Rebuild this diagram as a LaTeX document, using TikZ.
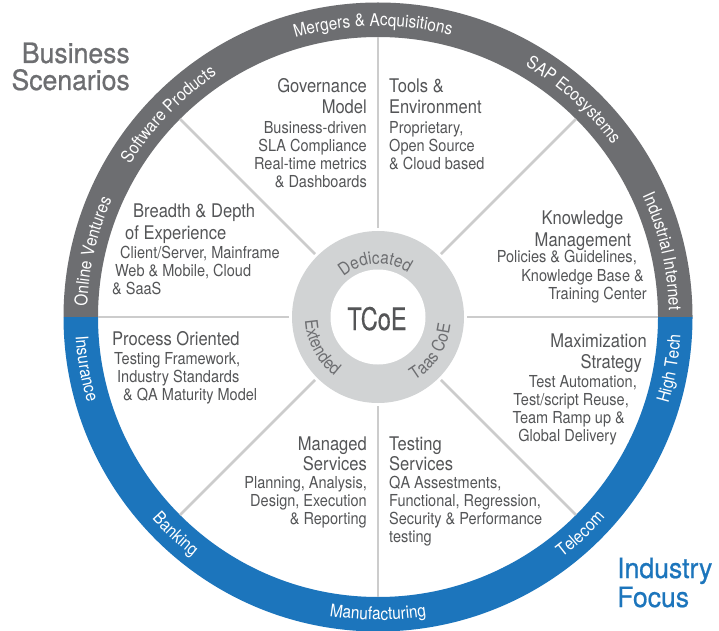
\documentclass[tikz,border=0pt]{standalone}
\usepackage{fontspec}
\setmainfont{TeX Gyre Heros}[FakeStretch=0.88]
\newfontfamily\headfont{TeX Gyre Heros}[FakeStretch=0.95, FakeBold=0.7]
\newfontfamily\tcoefont{TeX Gyre Heros}[FakeStretch=0.76, FakeBold=0.5]
\usetikzlibrary{decorations.text}
\definecolor{ringgray}{HTML}{6D6E71}
\definecolor{ringblue}{HTML}{1C75BC}
\definecolor{innergray}{HTML}{D1D3D4}
\definecolor{spokegray}{HTML}{CCCCCC}
\definecolor{txtdark}{HTML}{545557}
\tikzset{
  ttl/.style={inner sep=0pt, text=txtdark, font=\fontsize{18.8}{21}\selectfont},
  sub/.style={inner sep=0pt, text=txtdark, font=\fontsize{16.5}{18}\selectfont},
  headgray/.style={inner sep=0pt, text=ringgray, font=\headfont\fontsize{28}{28}\selectfont},
  headblue/.style={inner sep=0pt, text=ringblue, font=\headfont\fontsize{28}{28}\selectfont},
  spokeline/.style={draw=spokegray, line width=2.5pt},
  ringlabel/.style={decorate, decoration={text along path, text align=center, text color=white, text={|\fontsize{17.5}{18}\selectfont|#1}}},
  corelabel/.style={decorate, decoration={text along path, text align=center, text color=ringgray, text={|\fontsize{17.5}{18}\selectfont|#1}}}
}
\begin{document}
\begin{tikzpicture}[x=1pt,y=1pt]
\useasboundingbox (0,0) rectangle (719,630);
\fill[white] (0,0) rectangle (719,630);
\coordinate (c) at (378,313);
% outer ring
\fill[ringgray] ([shift={(0:314.5pt)}]c) arc[start angle=0, end angle=180, radius=314.5pt]
  -- ([shift={(180:280pt)}]c) arc[start angle=180, end angle=0, radius=280pt] -- cycle;
\fill[ringblue] ([shift={(180:314.5pt)}]c) arc[start angle=180, end angle=360, radius=314.5pt]
  -- ([shift={(0:280pt)}]c) arc[start angle=360, end angle=180, radius=280pt] -- cycle;
% spokes
\foreach \a in {0,45,...,315}
  \draw[spokeline] ([shift={(\a:89pt)}]c) -- ([shift={(\a:280pt)}]c);
% core
\fill[innergray] (c) circle[radius=86pt];
\fill[white] (c) circle[radius=47.5pt];
% ring labels (top half, clockwise)
\path[ringlabel={Mergers {\&} Acquisitions}] ([shift={(131:291pt)}]c) arc[start angle=131, end angle=51, radius=291pt];
\path[ringlabel={SAP Ecosystems}] ([shift={(88:291pt)}]c) arc[start angle=88, end angle=8, radius=291pt];
\path[ringlabel={Industrial Internet}] ([shift={(53:291pt)}]c) arc[start angle=53, end angle=-27, radius=291pt];
\path[ringlabel={Software Products}] ([shift={(176:291pt)}]c) arc[start angle=176, end angle=96, radius=291pt];
\path[ringlabel={Online Ventures}] ([shift={(207:291pt)}]c) arc[start angle=207, end angle=127, radius=291pt];
% ring labels (bottom half, counter-clockwise)
\path[ringlabel={Insurance}] ([shift={(150:303pt)}]c) arc[start angle=150, end angle=230, radius=303pt];
\path[ringlabel={Banking}] ([shift={(187:303pt)}]c) arc[start angle=187, end angle=267, radius=303pt];
\path[ringlabel={Manufacturing}] ([shift={(230:303pt)}]c) arc[start angle=230, end angle=310, radius=303pt];
\path[ringlabel={Telecom}] ([shift={(273:303pt)}]c) arc[start angle=273, end angle=353, radius=303pt];
\path[ringlabel={High Tech}] ([shift={(310:303pt)}]c) arc[start angle=310, end angle=390, radius=303pt];
% core labels
\path[corelabel={Dedicated}] ([shift={(153:53pt)}]c) arc[start angle=153, end angle=33, radius=53pt];
\path[corelabel={Extended}] ([shift={(148:73pt)}]c) arc[start angle=148, end angle=268, radius=73pt];
\path[corelabel={Taas CoE}] ([shift={(267:73pt)}]c) arc[start angle=267, end angle=387, radius=73pt];
\begin{scope}[yshift=630pt, y=-1pt]
\node[inner sep=0pt, text=txtdark, font=\tcoefont\fontsize{31}{31}\selectfont, anchor=base] (tcoe) at (377,330) {TCoE};
% headings
\node[headgray, anchor=base east] (bs1) at (130,63) {Business};
\node[headgray, anchor=base east] (bs2) at (130,90) {Scenarios};
\node[headblue, anchor=base west] (if1) at (617,578) {Industry};
\node[headblue, anchor=base west] (if2) at (617,607) {Focus};
% Governance
\node[ttl, anchor=base east] (gv1) at (367,93) {Governance};
\node[ttl, anchor=base east] (gv2) at (367,114) {Model};
\node[sub, anchor=base east] (gv3) at (367,134) {Business-driven};
\node[sub, anchor=base east] (gv4) at (367,152) {SLA Compliance};
\node[sub, anchor=base east] (gv5) at (367,170) {Real-time metrics};
\node[sub, anchor=base east] (gv6) at (367,188) {\& Dashboards};
% Tools
\node[ttl, anchor=base west] (tl1) at (389,93) {Tools \&};
\node[ttl, anchor=base west] (tl2) at (389,114) {Environment};
\node[sub, anchor=base west] (tl3) at (389,134) {Proprietary,};
\node[sub, anchor=base west] (tl4) at (389,152) {Open Source};
\node[sub, anchor=base west] (tl5) at (389,170) {\& Cloud based};
% Breadth
\node[ttl, anchor=base west] (br1) at (133,218) {Breadth \& Depth};
\node[ttl, anchor=base west] (br2) at (125,240) {of Experience};
\node[sub, anchor=base west] (br3) at (120,258) {Client/Server, Mainframe};
\node[sub, anchor=base west] (br4) at (115,276) {Web \& Mobile, Cloud};
\node[sub, anchor=base west] (br5) at (112,294) {\& SaaS};
% Knowledge
\node[ttl, anchor=base] (kn1) at (582.5,225) {Knowledge};
\node[ttl, anchor=base] (kn2) at (583,246) {Management};
\node[sub, anchor=base east] (kn3) at (637,263) {Policies \& Guidelines,};
\node[sub, anchor=base east] (kn4) at (644,281) {Knowledge Base \&};
\node[sub, anchor=base east] (kn5) at (647,299) {Training Center};
% Process
\node[ttl, anchor=base west] (pr1) at (112,345) {Process Oriented};
\node[sub, anchor=base west] (pr2) at (114,364) {Testing Framework,};
\node[sub, anchor=base west] (pr3) at (117,382) {Industry Standards};
\node[sub, anchor=base west] (pr4) at (123,400) {\& QA Maturity Model};
% Maximization
\node[ttl, anchor=base east] (mx1) at (647,347) {Maximization};
\node[ttl, anchor=base east] (mx2) at (642,368) {Strategy};
\node[sub, anchor=base east] (mx3) at (637,387) {Test Automation,};
\node[sub, anchor=base east] (mx4) at (629,405) {Test/script Reuse,};
\node[sub, anchor=base east] (mx5) at (625,423) {Team Ramp up \&};
\node[sub, anchor=base east] (mx6) at (617,441) {Global Delivery};
% Managed
\node[ttl, anchor=base east] (mg1) at (367,450) {Managed};
\node[ttl, anchor=base east] (mg2) at (367,470) {Services};
\node[sub, anchor=base east] (mg3) at (367,488) {Planning, Analysis,};
\node[sub, anchor=base east] (mg4) at (367,506) {Design, Execution};
\node[sub, anchor=base east] (mg5) at (367,524) {\& Reporting};
% Testing
\node[ttl, anchor=base west] (ts1) at (389,450) {Testing};
\node[ttl, anchor=base west] (ts2) at (389,470) {Services};
\node[sub, anchor=base west] (ts3) at (389,488) {QA Assestments,};
\node[sub, anchor=base west] (ts4) at (389,506) {Functional, Regression,};
\node[sub, anchor=base west] (ts5) at (389,524) {Security \& Performance};
\node[sub, anchor=base west] (ts6) at (389,542) {testing};
\end{scope}
\end{tikzpicture}
\end{document}
